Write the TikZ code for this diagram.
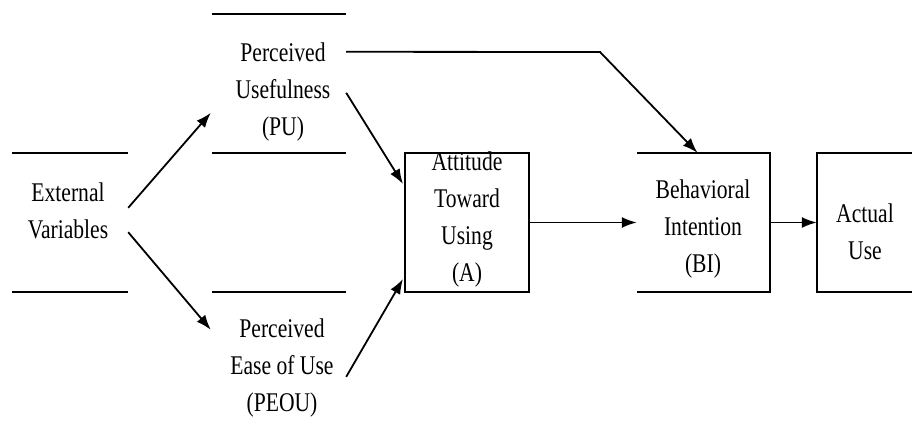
\documentclass[tikz,border=0pt]{standalone}
\usepackage{fontspec}
\setmainfont{Liberation Serif}[FakeStretch=0.8]
\usetikzlibrary{arrows.meta,calc}
\begin{document}
\begin{tikzpicture}[x=1pt,y=-1pt,
  box/.style={inner sep=0pt, minimum width=#1, minimum height=139pt},
  lbl/.style={inner sep=0pt, align=center, font=\fontsize{27}{37}\selectfont},
  edge/.style={line width=2pt},
  arr/.style={line width=1.8pt, -{Latex[length=15pt,width=11pt]}}]
\useasboundingbox (0,0) rectangle (912,430);
% boxes
\node[box=116pt] (ev) at (70,222.5) {};
\node[box=134pt] (pu) at (279,83.5) {};
\node[box=134pt] (peou) at (279,361.5) {};
\node[box=124pt, draw, line width=2pt] (att) at (467,222.5) {};
\node[box=133pt] (bi) at (703.5,222.5) {};
\node[box=100pt] (au) at (867,222.5) {};
% texts
\node[lbl] (evt) at (68,211) {External\\Variables};
\node[lbl] (put) at (283,92) {Perceived\\Usefulness\\(PU)};
\node[lbl] (peout) at (282,368) {Perceived\\Ease of Use\\(PEOU)};
\node[lbl] (attt) at (467,220) {Attitude\\Toward\\Using\\(A)};
\node[lbl] (bit) at (703,229) {Behavioral\\Intention\\(BI)};
\node[lbl] (aut) at (865,232) {Actual\\Use};
% partial box edges
\draw[edge] (ev.north west) -- (ev.north east) (ev.south west) -- (ev.south east);
\draw[edge] (pu.north west) -- (pu.north east) (pu.south west) -- (pu.south east);
\draw[edge] (peou.north west) -- (peou.north east);
\draw[edge] (bi.north west) -- (bi.north east) -- (bi.south east) -- (bi.south west);
\draw[edge] (au.north east) -- (au.north west) -- (au.south west) -- (au.south east);
% connectors
\draw[arr] ($(ev.north east)+(0,55)$) -- ($(pu.north west)+(-1,99)$);
\draw[arr] ($(ev.south east)+(0,-60)$) -- ($(peou.north west)+(-1,38)$);
\draw[arr] ($(pu.north east)+(0,79)$) -- ($(att.north west)+(-1,32)$);
\draw[arr] ($(peou.north east)+(0,85)$) -- ($(att.south west)+(-1,-14)$);
\coordinate (bend) at (600,52);
\draw[arr] ($(pu.north east)+(0,38)$) -- (bend) -- ($(bi.north)+(-6,0)$);
\draw[arr] (att.east) -- (bi.west);
\draw[arr] (bi.east) -- (au.west);
\end{tikzpicture}
\end{document}
